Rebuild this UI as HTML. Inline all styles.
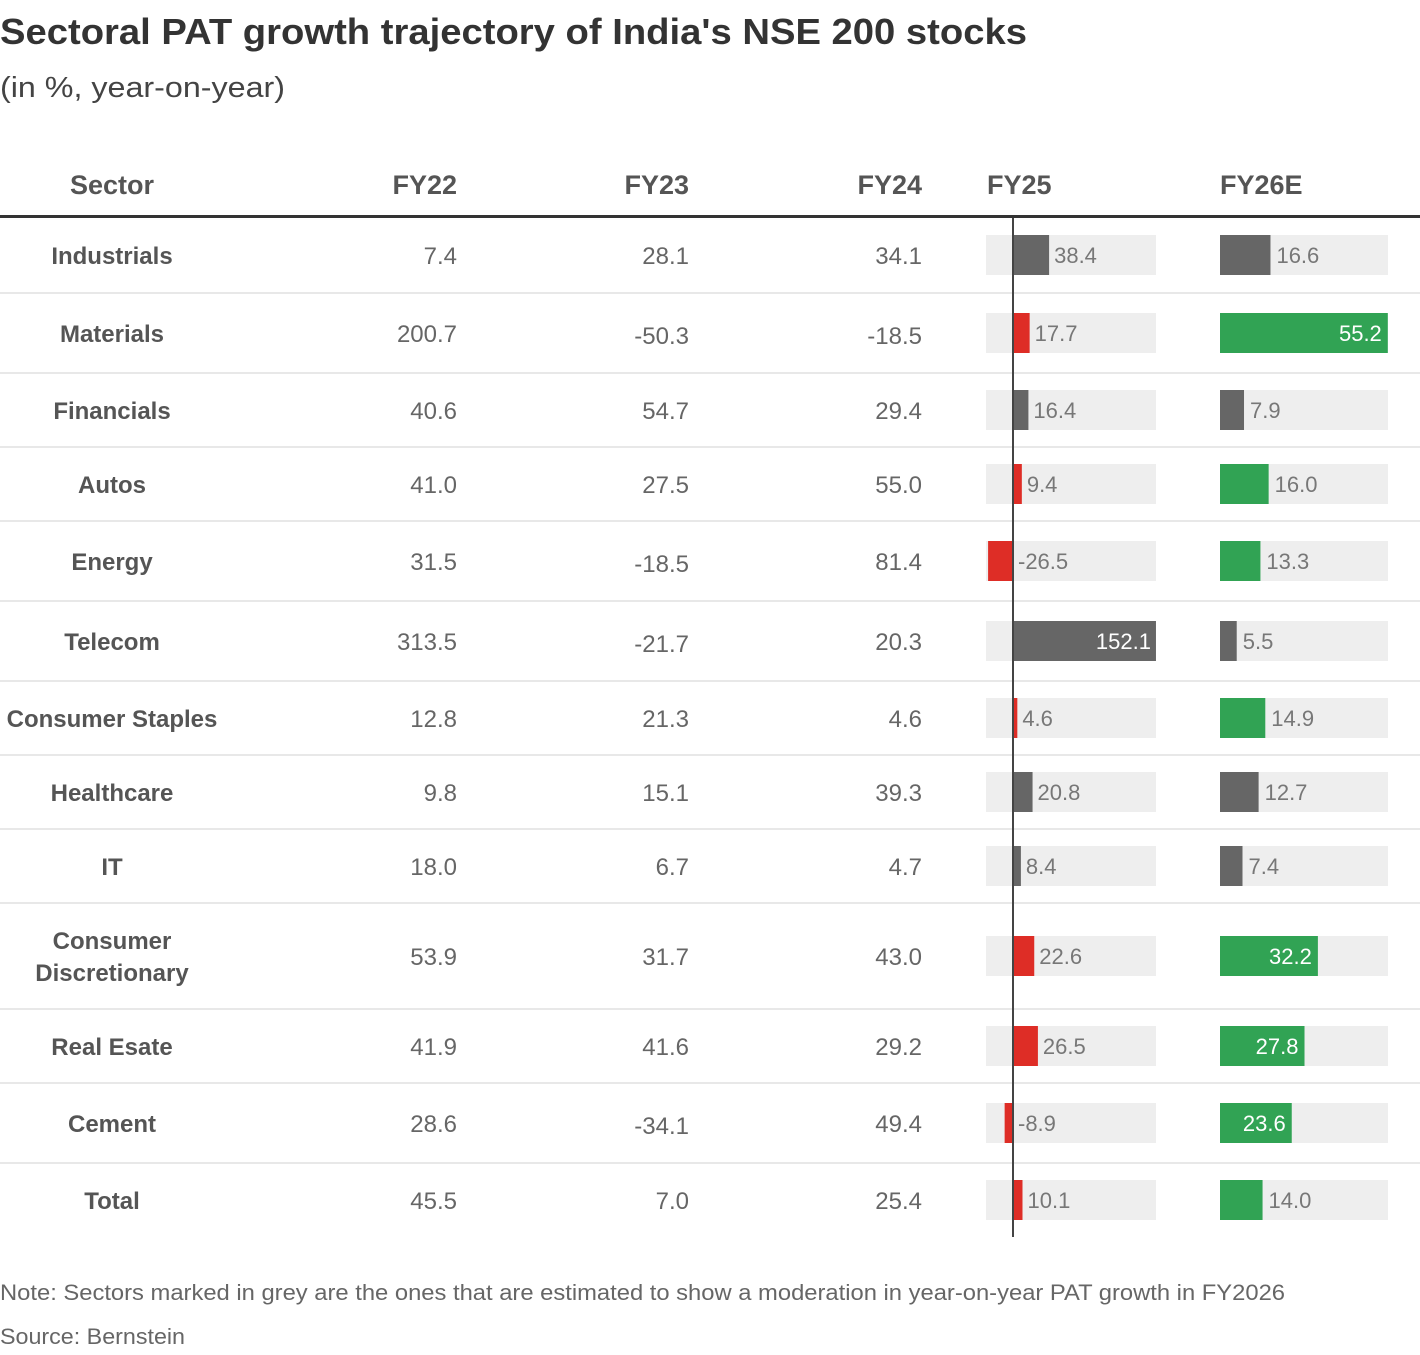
<!DOCTYPE html>
<html><head><meta charset="utf-8"><style>
body{margin:0;background:#fff;width:1420px;height:1350px;overflow:hidden;font-family:"Liberation Sans",sans-serif}
svg text{font-family:"Liberation Sans",sans-serif}
</style></head><body>
<svg id="c" width="1420" height="1350">
<text x="0" y="44" font-size="36" font-weight="bold" fill="#333" textLength="1027" lengthAdjust="spacingAndGlyphs">Sectoral PAT growth trajectory of India's NSE 200 stocks</text>
<text x="0" y="97" font-size="29" fill="#444" textLength="285" lengthAdjust="spacingAndGlyphs">(in %, year-on-year)</text>
<text x="112" y="194" font-size="27" font-weight="bold" fill="#555" text-anchor="middle">Sector</text>
<text x="457" y="194" font-size="27" font-weight="bold" fill="#555" text-anchor="end">FY22</text>
<text x="689" y="194" font-size="27" font-weight="bold" fill="#555" text-anchor="end">FY23</text>
<text x="922" y="194" font-size="27" font-weight="bold" fill="#555" text-anchor="end">FY24</text>
<text x="987" y="194" font-size="27" font-weight="bold" fill="#555">FY25</text>
<text x="1220" y="194" font-size="27" font-weight="bold" fill="#555">FY26E</text>
<rect x="0" y="215" width="1420" height="3" fill="#333"/>
<g id="rows"></g>
<text x="0" y="1300" font-size="22" fill="#666" textLength="1285" lengthAdjust="spacingAndGlyphs">Note: Sectors marked in grey are the ones that are estimated to show a moderation in year-on-year PAT growth in FY2026</text>
<text x="0" y="1344" font-size="22" fill="#666" textLength="185" lengthAdjust="spacingAndGlyphs">Source: Bernstein</text>
</svg>
<script>
const sectors=["Industrials","Materials","Financials","Autos","Energy","Telecom","Consumer Staples","Healthcare","IT","Consumer|Discretionary","Real Esate","Cement","Total"];
const fy22=[7.4,200.7,40.6,41.0,31.5,313.5,12.8,9.8,18.0,53.9,41.9,28.6,45.5];
const fy23=[28.1,-50.3,54.7,27.5,-18.5,-21.7,21.3,15.1,6.7,31.7,41.6,-34.1,7.0];
const fy24=[34.1,-18.5,29.4,55.0,81.4,20.3,4.6,39.3,4.7,43.0,29.2,49.4,25.4];
const fy25=[38.4,17.7,16.4,9.4,-26.5,152.1,4.6,20.8,8.4,22.6,26.5,-8.9,10.1];
const fy26=[16.6,55.2,7.9,16.0,13.3,5.5,14.9,12.7,7.4,32.2,27.8,23.6,14.0];
const rowH=[76,80,74,74,80,80,74,74,74,106,74,80,74];
const NS="http://www.w3.org/2000/svg";
const g=document.getElementById('rows');
function mk(t,a,p){const e=document.createElementNS(NS,t);for(const k in a)e.setAttribute(k,a[k]);(p||g).appendChild(e);return e;}
const x25=v=>1013+v*0.94, x26=v=>1220+v*3.04;
let y=217;
sectors.forEach((s,i)=>{
  const cy=y+rowH[i]/2;
  const row=mk('g',{});
  
  
  const parts=s.split('|');
  parts.forEach((p,j)=>{const t=mk('text',{x:112,y:cy+9+(j-(parts.length-1)/2)*32,'font-size':24,'font-weight':'bold',fill:'#555','text-anchor':'middle'},row);t.textContent=p;
    
    });
  [[fy22,457],[fy23,689],[fy24,922]].forEach(([arr,x])=>{const t=mk('text',{x:x,y:cy+9+(arr[i]<0?2:0),'font-size':24,fill:'#666','text-anchor':'end'},row);t.textContent=arr[i].toFixed(1);
    
    });
  const accel=fy26[i]>fy25[i];
  const bg1=mk('rect',{x:986,y:cy-20,width:170,height:40,fill:'#eee'},row);
  
  
  const v=fy25[i],xa=Math.min(x25(0),x25(v)),w=Math.abs(x25(v)-x25(0));
  const b1=mk('rect',{x:xa,y:cy-20,width:w,height:40,fill:accel?'#de2d26':'#666'},row);
  
  
  let t=mk('text',{'font-size':22,y:cy+8},row);t.textContent=v.toFixed(1);
  if(v>0&&w>60){t.setAttribute('x',x25(v)-5);t.setAttribute('text-anchor','end');t.setAttribute('fill','#fff');}
  else{t.setAttribute('x',Math.max(x25(v),x25(0))+5);t.setAttribute('fill','#777');}
  
  
  const bg2=mk('rect',{x:1220,y:cy-20,width:168,height:40,fill:'#eee'},row);
  
  
  const u=fy26[i],w2=x26(u)-x26(0);
  const b2=mk('rect',{x:x26(0),y:cy-20,width:w2,height:40,fill:accel?'#31a354':'#666'},row);
  
  
  t=mk('text',{'font-size':22,y:cy+8},row);t.textContent=u.toFixed(1);
  if(w2>60){t.setAttribute('x',x26(u)-6);t.setAttribute('text-anchor','end');t.setAttribute('fill','#fff');}
  else{t.setAttribute('x',x26(u)+6);t.setAttribute('fill','#777');}
  
  
  y+=rowH[i];
  if(i<sectors.length-1){const l=mk('rect',{x:0,y:y-1,width:1420,height:2,fill:'#e8e8e8'},row);
    
    }
});
const zl=mk('rect',{x:x25(0)-1,y:218,width:2,height:y-218,fill:'#444'});


</script>
</body></html>
